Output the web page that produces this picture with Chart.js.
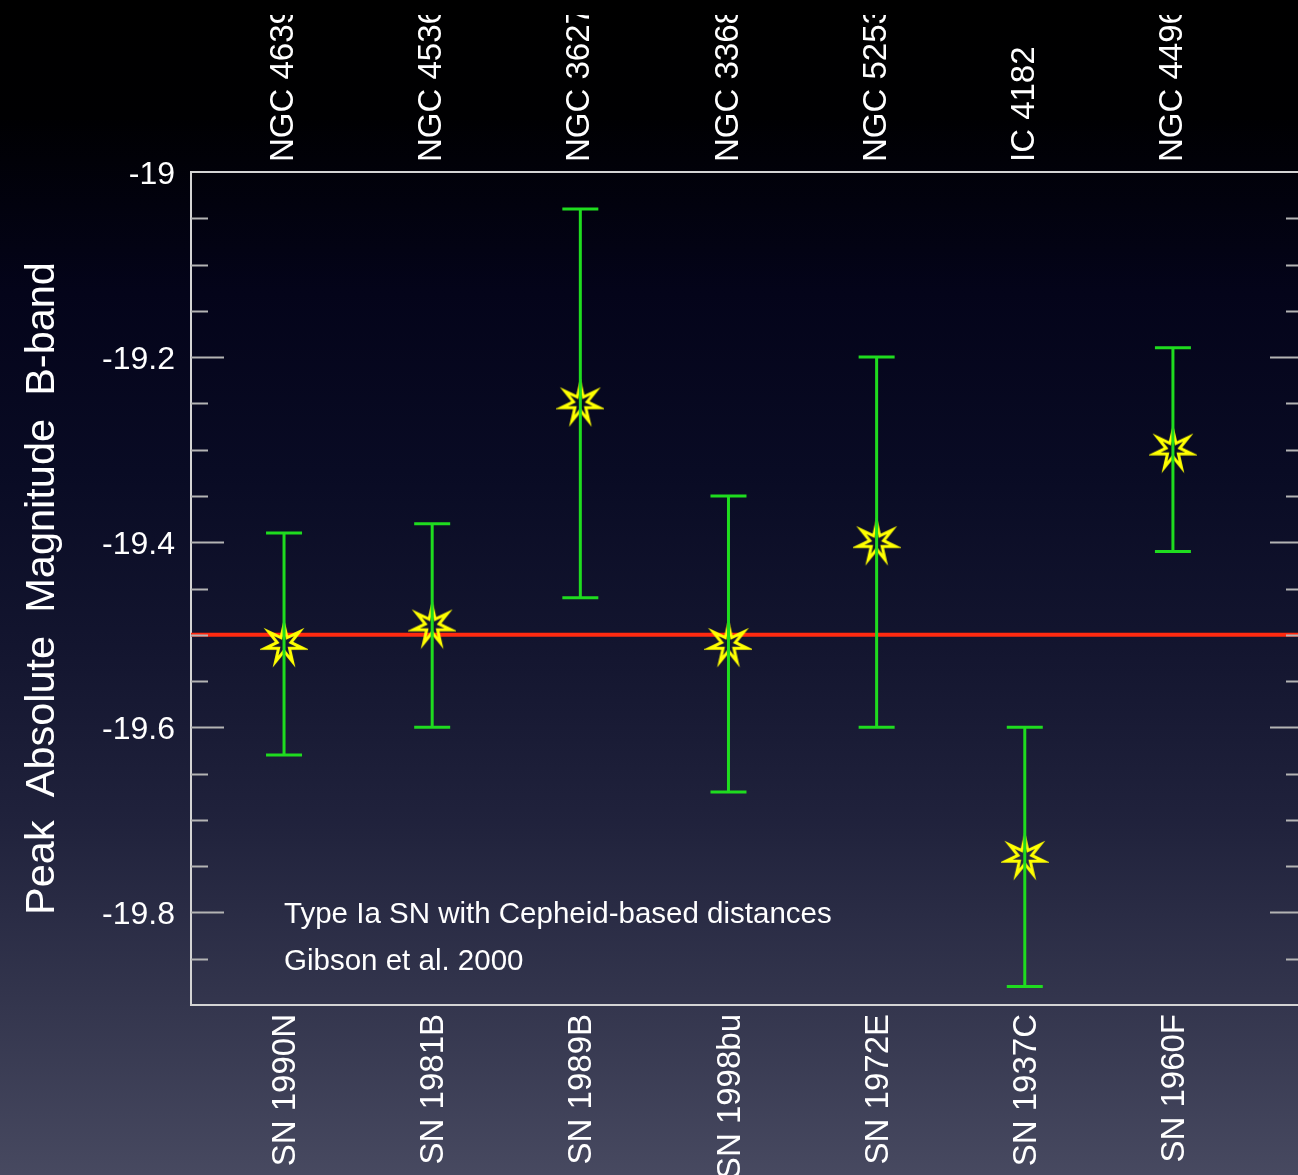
<!DOCTYPE html>
<html>
<head>
<meta charset="utf-8">
<script src="https://cdn.jsdelivr.net/npm/chart.js@4.4.1/dist/chart.umd.min.js"></script>
<style>
  html, body {
    margin: 0;
    padding: 0;
    width: 1298px;
    height: 1175px;
    overflow: hidden;
  }
  body {
    background: linear-gradient(to bottom,
      #000000 0%, #000002 10%, #04041a 25%, #090b24 40%,
      #13152f 55%, #20223c 70%, #33354d 85%, #474960 100%);
  }
  #wrap {
    position: absolute;
    left: 0;
    top: 15px;
    width: 1324px;
    height: 1160px;
  }
</style>
</head>
<body>
<div id="wrap"><canvas id="chart"></canvas></div>
<script>
const supernovae = ['SN 1990N', 'SN 1981B', 'SN 1989B', 'SN 1998bu', 'SN 1972E', 'SN 1937C', 'SN 1960F'];
const hostGalaxies = ['NGC 4639', 'NGC 4536', 'NGC 3627', 'NGC 3368', 'NGC 5253', 'IC 4182', 'NGC 4496'];
const xPositions = [1, 2, 3, 4, 5, 6, 7];
const peakMag = [-19.51, -19.49, -19.25, -19.51, -19.40, -19.74, -19.30];
const magUpper = [-19.39, -19.38, -19.04, -19.35, -19.20, -19.60, -19.19];
const magLower = [-19.63, -19.60, -19.46, -19.67, -19.60, -19.88, -19.41];
const meanMag = -19.5;
const yTickValues = [-19, -19.2, -19.4, -19.6, -19.8];
const notes = ['Type Ia SN with Cepheid-based distances', 'Gibson et al. 2000'];

const X_MIN = 0.372, X_MAX = 7.878;
const Y_MIN = -19.9, Y_MAX = -19.0;
const FONT = '"Liberation Sans", Arial, Helvetica, sans-serif';
const frameColor = '#d4d4d4';
const tickColor = '#b4b4b4';
const barColor = '#1fdc1f';
const LABEL_SIZE = 33;

// 7-point yellow star used as the marker
function makeStar() {
    const c = document.createElement('canvas');
    c.width = 48; c.height = 48;
    const g = c.getContext('2d');
    g.translate(24, 24);
    g.beginPath();
    for (let i = 0; i < 14; i++) {
        const r = i % 2 ? 7 : 19.5;
        const a = -Math.PI / 2 + i * Math.PI / 7;
        const px = r * Math.cos(a), py = r * Math.sin(a);
        if (i === 0) g.moveTo(px, py); else g.lineTo(px, py);
    }
    g.closePath();
    g.strokeStyle = '#ffff00';
    g.lineWidth = 3;
    g.stroke();
    return c;
}

const errorBars = {
    id: 'errorBars',
    afterDatasetsDraw(chart) {
        const { ctx, scales: { x, y } } = chart;
        ctx.save();
        ctx.strokeStyle = barColor;
        ctx.lineWidth = 3;
        xPositions.forEach((v, i) => {
            const px = x.getPixelForValue(v);
            const top = y.getPixelForValue(magUpper[i]);
            const bot = y.getPixelForValue(magLower[i]);
            ctx.beginPath();
            ctx.moveTo(px, top); ctx.lineTo(px, bot);
            ctx.moveTo(px - 18, top); ctx.lineTo(px + 18, top);
            ctx.moveTo(px - 18, bot); ctx.lineTo(px + 18, bot);
            ctx.stroke();
        });
        ctx.restore();
    }
};

// inward ticks on both sides of the frame, plus the caption
const frameExtras = {
    id: 'frameExtras',
    afterDraw(chart) {
        const { ctx, chartArea: a, scales: { x, y } } = chart;
        ctx.save();
        ctx.strokeStyle = tickColor;
        ctx.lineWidth = 2;
        for (let k = 1; k < 18; k++) {
            const v = -19 - k * 0.05;
            const py = Math.round(y.getPixelForValue(v)) + 0.5;
            const major = k % 4 === 0;
            const len = major ? 33 : 17;
            ctx.beginPath();
            ctx.moveTo(a.left, py); ctx.lineTo(a.left + len, py);
            ctx.moveTo(a.right, py); ctx.lineTo(a.right - len, py);
            ctx.stroke();
        }
        ctx.fillStyle = '#ffffff';
        ctx.font = '29.5px ' + FONT;
        ctx.textBaseline = 'alphabetic';
        ctx.textAlign = 'left';
        const tx = x.getPixelForValue(1);
        ctx.fillText(notes[0], tx, y.getPixelForValue(-19.8) + 11);
        ctx.fillText(notes[1], tx, y.getPixelForValue(-19.85) + 11);
        ctx.restore();
    }
};

const ctx = document.getElementById('chart').getContext('2d');
new Chart(ctx, {
    type: 'scatter',
    data: {
        datasets: [
            {
                type: 'line',
                data: [{ x: X_MIN, y: meanMag }, { x: X_MAX, y: meanMag }],
                borderColor: '#ff2a10',
                borderWidth: 4,
                pointRadius: 0,
                order: 2
            },
            {
                data: xPositions.map((v, i) => ({ x: v, y: peakMag[i] })),
                pointStyle: makeStar(),
                pointRadius: 20,
                order: 1
            }
        ]
    },
    options: {
        responsive: true,
        maintainAspectRatio: false,
        animation: false,
        events: [],
        layout: { padding: 0 },
        plugins: { legend: { display: false }, tooltip: { enabled: false } },
        scales: {
            x: {
                type: 'linear',
                position: 'bottom',
                min: X_MIN, max: X_MAX,
                afterBuildTicks: s => { s.ticks = xPositions.map(v => ({ value: v })); },
                afterFit: s => { s.height = 170; },
                grid: { display: false, drawTicks: false },
                border: { display: true, color: frameColor, width: 2 },
                ticks: {
                    color: '#ffffff',
                    font: { family: FONT, size: LABEL_SIZE },
                    padding: 9,
                    labelOffset: 2,
                    minRotation: 90, maxRotation: 90,
                    autoSkip: false,
                    callback: (v, i) => supernovae[i]
                }
            },
            x2: {
                type: 'linear',
                position: 'top',
                min: X_MIN, max: X_MAX,
                afterBuildTicks: s => { s.ticks = xPositions.map(v => ({ value: v })); },
                afterFit: s => { s.height = 157; },
                grid: { display: false, drawTicks: false },
                border: { display: true, color: frameColor, width: 2 },
                ticks: {
                    color: '#ffffff',
                    font: { family: FONT, size: LABEL_SIZE },
                    padding: 10,
                    labelOffset: LABEL_SIZE * 1.2,
                    minRotation: 90, maxRotation: 90,
                    autoSkip: false,
                    callback: (v, i) => hostGalaxies[i]
                }
            },
            y: {
                min: Y_MIN, max: Y_MAX,
                afterBuildTicks: s => { s.ticks = yTickValues.map(v => ({ value: v })); },
                afterFit: s => { s.width = 191; },
                grid: { display: false, drawTicks: false },
                border: { display: true, color: frameColor, width: 2 },
                ticks: {
                    color: '#ffffff',
                    font: { family: FONT, size: 32 },
                    padding: 16,
                    labelOffset: 3,
                    callback: v => String(v)
                },
                title: {
                    display: true,
                    text: 'Peak  Absolute  Magnitude  B-band',
                    color: '#ffffff',
                    font: { family: FONT, size: 41.5 },
                    padding: { top: 18, bottom: 0 }
                }
            }
        }
    },
    plugins: [errorBars, frameExtras]
});
</script>
</body>
</html>
